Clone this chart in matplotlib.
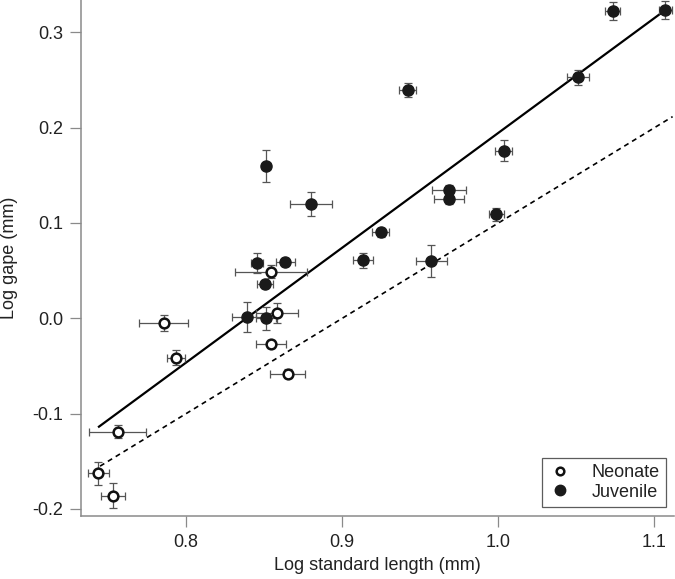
import matplotlib
matplotlib.use("Agg")
import matplotlib.pyplot as plt
from matplotlib.lines import Line2D
import numpy as np

plt.rcParams["font.family"] = ["Liberation Sans", "DejaVu Sans"]

# Neonate (open circles): log standard length, log gape and error half-widths
neo_x = [0.8544, 0.8580, 0.7855, 0.8544, 0.7934, 0.8649, 0.7561, 0.7437, 0.7529]
neo_y = [0.049, 0.0056, -0.005, -0.027, -0.0413, -0.058, -0.119, -0.1627, -0.186]
neo_xerr = [0.023, 0.0134, 0.0157, 0.0094, 0.0056, 0.011, 0.0183, 0.0069, 0.0078]
neo_yerr = [0.007, 0.0105, 0.0087, 0.004, 0.008, 0.0045, 0.007, 0.0122, 0.0127]

# Juvenile (filled circles)
juv_x = [0.8454, 0.8636, 0.8504, 0.8390, 0.8514, 0.8514, 0.8798, 0.9246, 0.9132,
         0.9570, 0.9986, 1.0732, 1.1069, 1.0508, 1.0035, 0.9683, 0.9683, 0.9420]
juv_y = [0.0577, 0.0588, 0.0357, 0.001, 0.0, 0.160, 0.120, 0.0902, 0.061,
         0.060, 0.109, 0.3225, 0.3235, 0.253, 0.176, 0.1346, 0.125, 0.2396]
juv_xerr = [0.004, 0.0062, 0.005, 0.0094, 0.0064, 0.002, 0.0136, 0.0054, 0.0066,
            0.010, 0.0048, 0.005, 0.0043, 0.007, 0.0054, 0.011, 0.0098, 0.0054]
juv_yerr = [0.0105, 0.004, 0.004, 0.0157, 0.012, 0.017, 0.013, 0.0045, 0.008,
            0.017, 0.0065, 0.009, 0.0098, 0.008, 0.011, 0.005, 0.005, 0.007]

# fitted regression (solid) and isometry reference (dashed)
fit_x = [0.7441, 1.1069]
fit_slope, fit_icpt = 1.205, -1.0104
iso_x = [0.7448, 1.1116]
iso_slope, iso_icpt = 1.0, -0.9

ERR_GRAY = "#555555"
AXIS_GRAY = "#8a8a8a"
TEXT = "#222222"

fig = plt.figure(figsize=(6.75, 5.79), dpi=100)
ax = fig.add_axes([81 / 675, 1 - 516 / 579, (674 - 81) / 675, 516 / 579])

fx = np.array(fit_x)
ax.plot(fx, fit_slope * fx + fit_icpt, color="black", lw=1.6, zorder=2)
ix = np.array(iso_x)
ax.plot(ix, iso_slope * ix + iso_icpt, color="black", lw=1.2,
        linestyle=(0, (3, 2.5)), zorder=2)

err_kw = dict(fmt="none", ecolor=ERR_GRAY, elinewidth=0.9, capsize=3,
              capthick=0.9, zorder=3)
ax.errorbar(juv_x, juv_y, xerr=juv_xerr, yerr=juv_yerr, **err_kw)
ax.errorbar(neo_x, neo_y, xerr=neo_xerr, yerr=neo_yerr, **err_kw)

ax.plot(juv_x, juv_y, "o", ms=8, color="#1a1a1a", mec="#1a1a1a", zorder=4)
ax.plot(neo_x, neo_y, "o", ms=7.0, mfc="white", mec="#111111", mew=1.8, zorder=4)

ax.set_xlim(0.7326, 1.1125)
ax.set_ylim(-0.2075, 0.334)
ax.set_xticks([0.8, 0.9, 1.0, 1.1])
ax.set_xticklabels(["0.8", "0.9", "1.0", "1.1"])
ax.set_yticks([-0.2, -0.1, 0.0, 0.1, 0.2, 0.3])
ax.set_yticklabels(["-0.2", "-0.1", "0.0", "0.1", "0.2", "0.3"])

for s in ("top", "right"):
    ax.spines[s].set_visible(False)
for s in ("left", "bottom"):
    ax.spines[s].set_color(AXIS_GRAY)
    ax.spines[s].set_linewidth(1.1)
ax.tick_params(axis="both", direction="out", length=8, width=0.9,
               color=AXIS_GRAY, labelsize=13, labelcolor=TEXT, pad=5)

ax.set_xlabel("Log standard length (mm)", fontsize=13, color=TEXT, labelpad=4)
ax.set_ylabel("Log gape (mm)", fontsize=13, color=TEXT, labelpad=10)

handles = [
    Line2D([], [], marker="o", ls="none", ms=5.5, mfc="white", mec="#111111",
           mew=1.8, label="Neonate"),
    Line2D([], [], marker="o", ls="none", ms=7.5, color="#1a1a1a", label="Juvenile"),
]
leg = ax.legend(handles=handles, loc="lower right",
                bbox_to_anchor=(0.9865, 0.0174), borderaxespad=0,
                fontsize=13, frameon=True, fancybox=False, handletextpad=1.1,
                handlelength=1.3, borderpad=0.35, labelspacing=0.15)
leg.get_frame().set_edgecolor("#333333")
leg.get_frame().set_linewidth(0.9)
for t in leg.get_texts():
    t.set_color(TEXT)

fig.savefig("out.png", dpi=100)
